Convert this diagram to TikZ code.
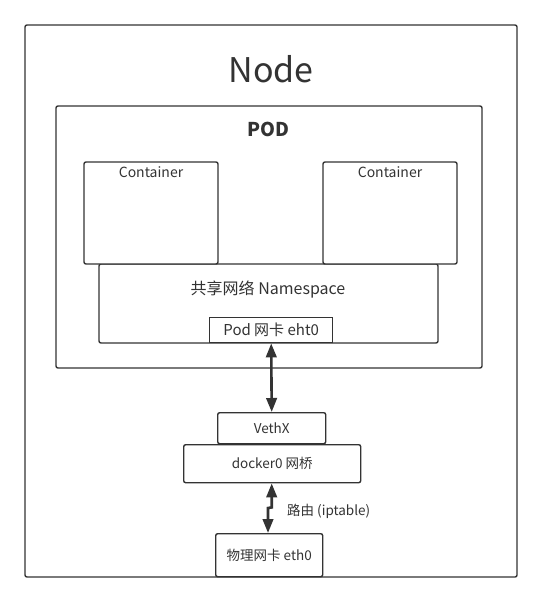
\documentclass[tikz,border=0pt]{standalone}
\usepackage{fontspec}
\setmainfont{Noto Sans CJK SC}
\usetikzlibrary{arrows.meta}
\definecolor{ink}{HTML}{333333}
\begin{document}
\begin{tikzpicture}[x=1pt,y=-1pt,
  box/.style={draw=ink,line width=1.4pt,rounded corners=2pt},
  sqbox/.style={draw=ink,line width=1.4pt},
  lbl/.style={text=ink,inner sep=0pt,font=\fontsize{13.5}{15}\selectfont},
  link/.style={draw=ink,line width=2.6pt,{Triangle[length=14pt,width=10.5pt]}-{Triangle[length=14pt,width=10.5pt]}}
]
\useasboundingbox (0,0) rectangle (542,602);
% boxes
\draw[box] (25,25) rectangle (517,577);
\draw[box] (56,106) rectangle (482,368);
\draw[box,fill=white] (99,264) rectangle (438,343);
\draw[box,fill=white] (84,162) rectangle (218,264);
\draw[box,fill=white] (323,162) rectangle (457,264);
\node[sqbox,fill=white,minimum width=123pt,minimum height=25pt,inner sep=0pt,anchor=north west] (podnic) at (209,317) {};
\node[box,fill=white,minimum width=108pt,minimum height=31pt,inner sep=0pt,anchor=north west] (veth) at (217,412) {};
\node[box,fill=white,minimum width=177pt,minimum height=38pt,inner sep=0pt,anchor=north west] (docker) at (183,444) {};
\node[box,fill=white,minimum width=107pt,minimum height=43pt,inner sep=0pt,anchor=north west] (eth) at (215,533) {};
% texts
\node[lbl,font=\fontsize{34}{38}\selectfont] (tnode) at (271,69) {Node};
\node[lbl,font=\bfseries\fontsize{19}{22}\selectfont] (tpod) at (268,129) {POD};
\node[lbl,font=\fontsize{14}{16}\selectfont] (tc1) at (151,172) {Container};
\node[lbl,font=\fontsize{14}{16}\selectfont] (tc2) at (390,172) {Container};
\node[lbl,font=\fontsize{16}{18}\selectfont] (tns) at (268,289.5) {共享网络 Namespace};
\node[lbl,font=\fontsize{15}{17}\selectfont] at (podnic.center) {Pod 网卡 eht0};
\node[lbl] at (veth.center) {VethX};
\node[lbl] at (docker.center) {docker0 网桥};
\node[lbl] at (eth.center) {物理网卡 eth0};
% connectors
\draw[link] (podnic.south) -- (veth.north);
\draw[link] ([xshift=-0.5pt]docker.south) -- ++(0,24) -- (268,508) -- (268,533);
\node[lbl,font=\fontsize{13.5}{16}\selectfont,anchor=west] (route) at (287,511) {路由 (iptable)};
\end{tikzpicture}
\end{document}
